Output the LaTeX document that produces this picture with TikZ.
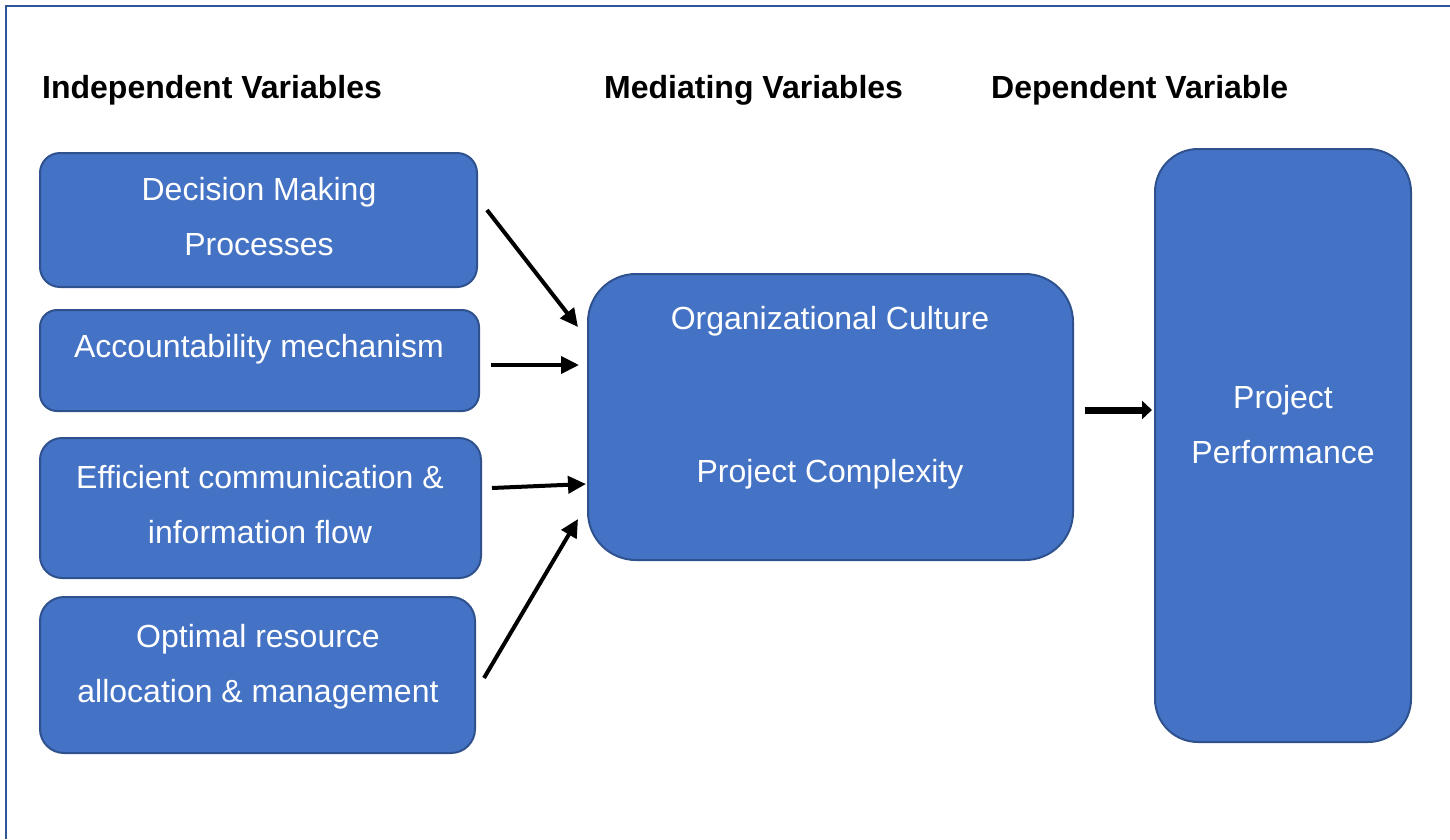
\documentclass[tikz,border=0pt]{standalone}
\usepackage{fontspec}
\setmainfont{Liberation Sans}
\usetikzlibrary{arrows.meta,calc}
\definecolor{boxfill}{HTML}{4472C4}
\definecolor{boxline}{HTML}{2F528F}
\definecolor{frameline}{HTML}{2F5597}
\begin{document}
\begin{tikzpicture}[x=1pt,y=-1pt,
  box/.style={draw=boxline, line width=2pt, fill=boxfill, inner sep=0pt},
  boxtext/.style={text=white, font=\fontsize{32}{55}\selectfont, align=center, inner sep=0pt, anchor=base},
  heading/.style={font=\bfseries\fontsize{32}{38}\selectfont, anchor=base west, inner sep=0pt},
  link/.style={line width=4pt, -{Triangle[length=18pt,width=17pt]}},
  biglink/.style={line width=7pt, -{Triangle[length=10pt,width=18pt]}}]
\useasboundingbox (0,0) rectangle (1450,839);

% page frame
\draw[frameline, line width=2.5pt] (6,839) -- (6,6) -- (1450,6);

% column headings
\node[heading] (hind) at (42,98) {Independent Variables};
\node[heading] (hmed) at (604,98) {Mediating Variables};
\node[heading] (hdep) at (991,98) {Dependent Variable};

% independent variables (text anchored on the last line's baseline)
\node[box, rounded corners=20pt, minimum width=437pt, minimum height=134pt] (dec) at (258.5,220) {};
\node[boxtext] (dectext) at (259,255) {Decision Making\\Processes};

\node[box, rounded corners=17pt, minimum width=439pt, minimum height=101pt] (acc) at (259.5,360.5) {};
\node[boxtext] (acctext) at (259,357) {Accountability mechanism};

\node[box, rounded corners=22pt, minimum width=441pt, minimum height=140pt] (eff) at (260.5,508) {};
\node[boxtext] (efftext) at (260,543) {Efficient communication \&\\information flow};

\node[box, rounded corners=24pt, minimum width=435pt, minimum height=156pt] (opt) at (257.5,675) {};
\node[boxtext] (opttext) at (258,702) {Optimal resource\\allocation \& management};

% mediating variables
\node[box, rounded corners=48pt, minimum width=485pt, minimum height=286pt] (mid) at (830.5,417) {};
\node[boxtext] (culture) at (830,329) {Organizational Culture};
\node[boxtext] (complex) at (830,482) {Project Complexity};

% dependent variable
\node[box, rounded corners=43pt, minimum width=256pt, minimum height=593pt] (perf) at (1283,445.5) {};
\node[boxtext] (perftext) at (1283,463) {Project\\Performance};

% connector end points
\coordinate (d1) at ($(dec.east)+(9,-10)$);
\coordinate (m1) at ($(mid.west)+(-9,-90)$);
\coordinate (d2) at ($(acc.east)+(11,4.5)$);
\coordinate (m2) at ($(mid.west)+(-8,-52)$);
\coordinate (d3) at ($(eff.east)+(10,-20)$);
\coordinate (m3) at ($(mid.west)+(-1,67)$);
\coordinate (d4) at ($(opt.east)+(8,3)$);
\coordinate (m4) at ($(mid.west)+(-9,102)$);
\coordinate (m5) at ($(mid.east)+(10.5,-7)$);
\coordinate (p5) at ($(perf.west)+(-2,-35.5)$);

\draw[link] (d1) -- (m1);
\draw[link] (d2) -- (m2);
\draw[link] (d3) -- (m3);
\draw[link] (d4) -- (m4);
\draw[biglink] (m5) -- (p5);
\end{tikzpicture}
\end{document}
